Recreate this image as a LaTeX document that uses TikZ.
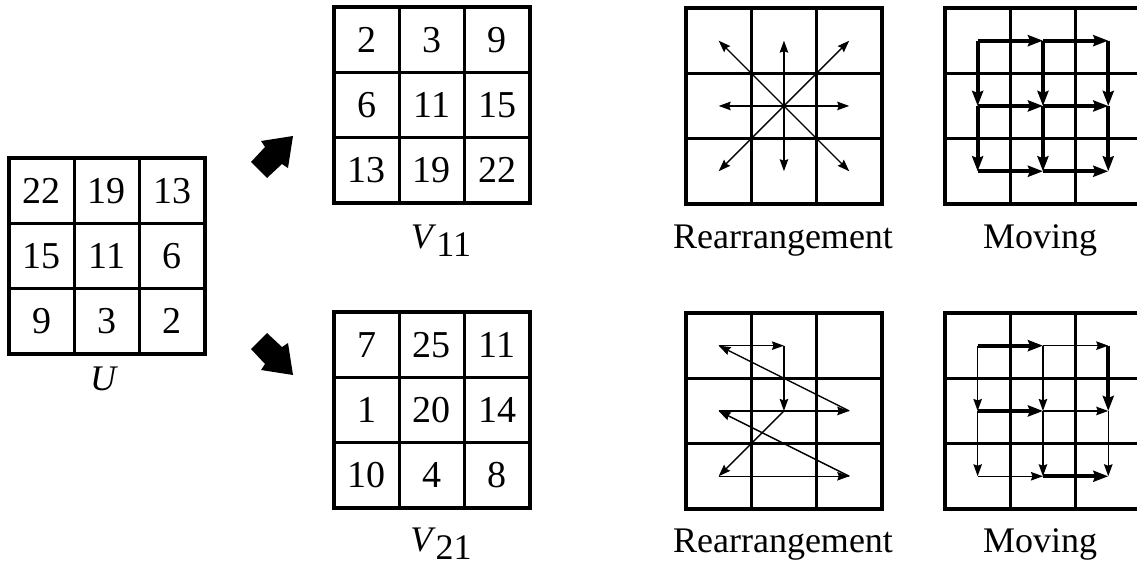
\documentclass[tikz,border=0pt]{standalone}
\usepackage{fontspec}
\setmainfont{Liberation Serif}
\usetikzlibrary{arrows.meta}
\tikzset{
  gridline/.style={line width=3.2pt},
  num/.style={font=\fontsize{38}{44}\selectfont, inner sep=0pt},
  lbl/.style={font=\fontsize{36}{42}\selectfont, inner sep=0pt, anchor=base},
  thinarr/.style={line width=1.4pt, -{Stealth[length=12pt,width=8.5pt,inset=1.5pt]}},
  thickarr/.style={line width=4.2pt, -{Stealth[length=15pt,width=11pt,inset=2pt]}},
  bigarrow/.style={fill=black},
}
\newcommand\mygrid[2]{%
  \draw[gridline] (#1,#2) rectangle ++(196,196);
  \draw[gridline] (#1+65.3,#2) -- ++(0,196) (#1+130.7,#2) -- ++(0,196)
                  (#1,#2+65.3) -- ++(196,0) (#1,#2+130.7) -- ++(196,0);}
\newcommand\mycenters[3]{%
  \foreach \r in {0,1,2}{\foreach \c in {0,1,2}{%
    \coordinate (#1\r\c) at (#2+32.65+65.3*\c, #3+32.65+65.3*\r);}}}
\begin{document}
\begin{tikzpicture}[x=1pt,y=-1pt]
\useasboundingbox (0,0) rectangle (1137,565);
% grids
\mygrid{9}{158}
\mygrid{334}{7}
\mygrid{334}{312}
\mygrid{686}{8}
\mygrid{686}{313}
\mygrid{945}{8}
\mygrid{945}{313}
% numbers
\foreach \v [count=\i from 0] in {22,19,13,15,11,6,9,3,2}{
  \pgfmathtruncatemacro\cc{mod(\i,3)}
  \pgfmathtruncatemacro\rr{div(\i,3)}
  \node[num] (u\i) at (9+32.65+65.3*\cc, 158+32.65+65.3*\rr) {\v};
}
\foreach \v [count=\i from 0] in {2,3,9,6,11,15,13,19,22}{
  \pgfmathtruncatemacro\cc{mod(\i,3)}
  \pgfmathtruncatemacro\rr{div(\i,3)}
  \node[num] (v\i) at (334+32.65+65.3*\cc, 7+32.65+65.3*\rr) {\v};
}
\foreach \v [count=\i from 0] in {7,25,11,1,20,14,10,4,8}{
  \pgfmathtruncatemacro\cc{mod(\i,3)}
  \pgfmathtruncatemacro\rr{div(\i,3)}
  \node[num] (w\i) at (334+32.65+65.3*\cc, 312+32.65+65.3*\rr) {\v};
}
% labels
\node[lbl] (lu) at (104,390) {\textit{U}};
\node[lbl] (lv1) at (441,248) {\textit{V}\raisebox{-8pt}{11}};
\node[lbl] (lv2) at (441,551) {\textit{V}\raisebox{-8pt}{21}};
\node[lbl] (lr1) at (783,248) {Rearrangement};
\node[lbl] (lr2) at (783,552) {Rearrangement};
\node[lbl] (lm1) at (1040,248) {Moving};
\node[lbl] (lm2) at (1040,552) {Moving};
% cell centres
\mycenters{a}{686}{8}
\mycenters{b}{686}{313}
\mycenters{c}{945}{8}
\mycenters{d}{945}{313}
% rearrangement 1
\foreach \t in {00,01,02,10,12,20,21,22}{\draw[thinarr] (a11) -- (a\t);}
% rearrangement 2
\draw[thinarr] (b00) -- (b01);
\draw[thinarr] (b01) -- (b11);
\draw[thinarr] (b11) -- (b20);
\draw[thinarr] (b20) -- (b22);
\draw[thinarr] (b22) -- (b10);
\draw[thinarr] (b10) -- (b12);
\draw[thinarr] (b12) -- (b00);
% moving 1
\foreach \s/\t in {00/01,01/02,10/11,11/12,20/21,21/22,00/10,10/20,01/11,11/21,02/12,12/22}{
  \draw[thickarr] (c\s) -- (c\t);}
% moving 2
\foreach \s/\t in {00/01,02/12,10/11,21/22}{\draw[thickarr] (d\s) -- (d\t);}
\foreach \s/\t in {01/02,00/10,01/11,10/20,11/21,12/22,11/12,20/21}{\draw[thinarr] (d\s) -- (d\t);}
% big arrows
\fill[bigarrow] (293,136) -- (261,141) -- (265,147) -- (251,162) -- (267,178) -- (282,164) -- (288,168) -- cycle;
\fill[bigarrow] (293,375) -- (261,370) -- (265,364) -- (251,349) -- (267,333) -- (282,347) -- (288,343) -- cycle;
\end{tikzpicture}
\end{document}
